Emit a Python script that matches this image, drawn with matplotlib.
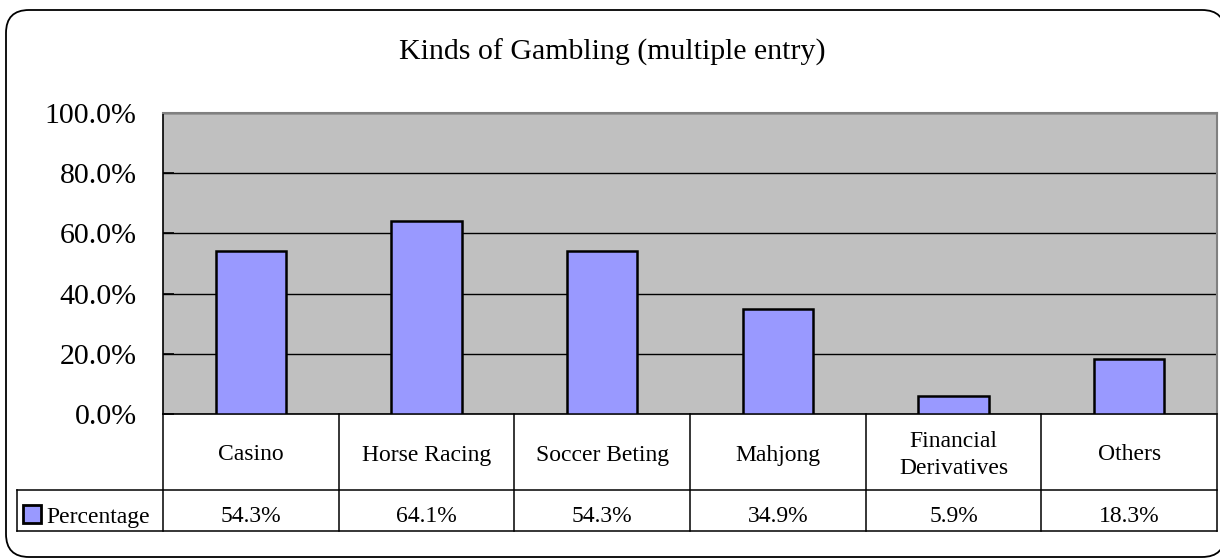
import matplotlib
matplotlib.use("Agg")
import matplotlib.pyplot as plt
from matplotlib.patches import Rectangle, FancyBboxPatch

categories = ["Casino", "Horse Racing", "Soccer Beting", "Mahjong", "Financial\nDerivatives", "Others"]
values = [54.3, 64.1, 54.3, 34.9, 5.9, 18.3]
value_labels = ["54.3%", "64.1%", "54.3%", "34.9%", "5.9%", "18.3%"]
series_name = "Percentage"
yticks = [0, 20, 40, 60, 80, 100]
ytick_labels = ["0.0%", "20.0%", "40.0%", "60.0%", "80.0%", "100.0%"]
title = "Kinds of Gambling (multiple entry)"

W, H = 1220, 560
plt.rcParams['font.family'] = ['Liberation Serif', 'DejaVu Serif']
fig = plt.figure(figsize=(W / 100, H / 100), dpi=100)

# background overlay in pixel units for the chart border
bg = fig.add_axes([0, 0, 1, 1], zorder=-1)
bg.set_xlim(0, W)
bg.set_ylim(H, 0)
bg.axis("off")
bg.add_patch(FancyBboxPatch((6, 10), 1219, 547, boxstyle="round,pad=0,rounding_size=23",
                            facecolor="white", edgecolor="black", linewidth=1.3))

# plot area in pixels
L, R, T, B = 163, 1217, 113, 414
ax = fig.add_axes([L / W, 1 - B / H, (R - L) / W, (B - T) / H])
ax.set_facecolor("#C0C0C0")
n = len(categories)
xs = list(range(n))
ax.bar(xs, values, width=0.4, color="#9999FF", edgecolor="black", linewidth=1.8, zorder=3)
ax.set_xlim(-0.5, n - 0.5)
ax.set_ylim(0, 100)
ax.set_yticks(yticks)
ax.set_yticklabels(ytick_labels, fontsize=21.5)
ax.set_xticks([])
ax.grid(axis="y", color="black", linewidth=1.0, zorder=1)
ax.tick_params(axis="y", direction="in", length=8, width=1.2, pad=19, colors="black")
for s in ["top", "right"]:
    ax.spines[s].set_color("#808080")
    ax.spines[s].set_linewidth(1.5)
ax.spines["left"].set_color("black")
ax.spines["left"].set_linewidth(1.2)
ax.spines["bottom"].set_color("black")
ax.spines["bottom"].set_linewidth(1.2)

fig.text(612 / W, 1 - 52 / H, title, ha="center", va="center", fontsize=21.5)

# data table beneath
pxu = (R - L) / n
pxh = (B - T)
trans = ax.get_xaxis_transform()
def yf(py):
    return -(py - B) / pxh

row1_bot = yf(490)
row2_bot = yf(531)
leg_left = -0.5 - (L - 17) / pxu
lw = 1.1
ax.plot([leg_left, n - 0.5], [row1_bot, row1_bot], transform=trans, color="black", lw=lw, clip_on=False)
ax.plot([leg_left, n - 0.5], [row2_bot, row2_bot], transform=trans, color="black", lw=lw, clip_on=False)
for xb in [i - 0.5 for i in range(n + 1)]:
    ax.plot([xb, xb], [0, row2_bot], transform=trans, color="black", lw=lw, clip_on=False)
ax.plot([leg_left, leg_left], [row1_bot, row2_bot], transform=trans, color="black", lw=lw, clip_on=False)

for i, (c, v) in enumerate(zip(categories, value_labels)):
    ax.text(i, yf(455), c, transform=trans, ha="center", va="center", fontsize=17,
            linespacing=1.4, clip_on=False)
    ax.text(i, yf(516), v, transform=trans, ha="center", va="center", fontsize=17, clip_on=False)

# legend key
kx = -0.5 - (L - 23) / pxu
ax.add_patch(Rectangle((kx, yf(523)), 18 / pxu, yf(505) - yf(523), transform=trans,
                       facecolor="#9999FF", edgecolor="black", linewidth=2, clip_on=False))
ax.text(-0.5 - (L - 46) / pxu, yf(518), series_name, transform=trans, ha="left", va="center",
        fontsize=17, clip_on=False)

fig.savefig("out.png", dpi=100)
